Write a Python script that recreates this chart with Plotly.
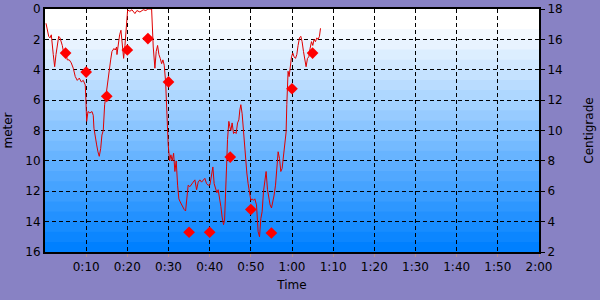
import plotly.graph_objects as go

# Dive profile: time (minutes) and depth (meters)
time_min = [0.24, 0.56, 0.9, 1.21, 1.53, 2.01, 2.35, 2.67, 2.99, 3.33, 3.64, 4.2, 4.61, 5.1, 5.41,
            5.9, 6.38, 6.87, 7.35, 7.84, 8.33, 8.81, 9.3, 9.78, 9.95, 10.12, 10.44, 10.92, 11.41,
            11.72, 11.89, 12.21, 12.55, 12.86, 13.18, 13.52, 13.83, 14.15, 14.49, 14.81, 15.12,
            15.36, 15.61, 15.95, 16.26, 16.75, 17.06, 17.4, 17.48, 17.79, 18.13, 18.45, 18.76,
            19.1, 19.42, 19.73, 19.9, 20.07, 20.63, 21.12, 21.84, 22.33, 23.06, 23.86, 24.51,
            25.0, 25.9, 26.04, 26.29, 26.7, 27.01, 27.35, 27.67, 27.99, 28.33, 28.64, 28.96,
            29.3, 29.54, 29.68, 29.93, 30.27, 30.58, 30.9, 31.24, 31.55, 31.87, 32.21, 32.52,
            32.84, 33.18, 33.5, 33.81, 34.15, 34.47, 34.78, 35.19, 35.61, 35.99, 36.41, 36.82,
            37.21, 37.62, 38.03, 38.42, 38.83, 39.25, 39.64, 40.05, 40.46, 40.78, 41.09, 41.43,
            41.75, 42.06, 42.4, 42.72, 43.03, 43.37, 43.62, 43.86, 44.1, 44.34, 44.66, 44.9,
            45.15, 45.46, 45.8, 46.12, 46.43, 46.77, 47.09, 47.33, 47.57, 47.89, 48.13, 48.37,
            48.71, 49.03, 49.34, 49.68, 50.0, 50.32, 50.66, 50.97, 51.38, 51.77, 52.11, 52.43,
            52.74, 53.08, 53.4, 53.71, 54.05, 54.37, 54.68, 55.02, 55.34, 55.66, 56.0, 56.31,
            56.63, 56.97, 57.28, 57.6, 57.94, 58.25, 58.57, 58.74, 58.91, 59.05, 59.3, 59.54,
            59.88, 60.19, 60.51, 60.85, 61.17, 61.48, 61.82, 62.14, 62.45, 62.79, 63.11, 63.42,
            63.76, 64.08, 64.39, 64.73, 65.05, 65.36, 65.7, 66.02, 66.33, 66.67, 66.92]
depth_m = [0.94, 1.4, 1.8, 1.9, 1.7, 3.0, 3.8, 3.0, 2.4, 1.8, 1.9, 2.4, 3.0, 2.9, 3.35,
           3.35, 3.55, 3.9, 4.45, 4.7, 4.55, 4.8, 4.7, 5.0, 6.1, 7.4, 6.75, 6.85, 6.75,
           7.0, 7.85, 8.5, 8.95, 9.4, 9.7, 9.2, 8.3, 8.0, 6.3, 5.7, 5.0,
           4.3, 4.1, 3.35, 2.8, 2.6, 2.7, 2.5, 3.0, 2.15, 1.7, 1.4, 2.15,
           3.25, 2.4, 1.27, 0.4, 0.07, 0.15, 0.05, 0.3, 0.1, 0.2, 0.05, 0.1,
           0.0, 0.0, 1.0, 2.5, 3.9, 2.8, 2.4, 3.0, 3.25, 3.6, 3.35, 3.7,
           4.8, 6.3, 8.1, 8.95, 10.0, 9.6, 10.0, 9.5, 10.7, 10.0, 11.6, 12.5,
           12.7, 12.9, 13.1, 13.2, 13.3, 12.5, 11.6, 11.7, 11.5, 11.4, 11.25, 11.9,
           11.4, 11.25, 11.4, 11.25, 11.15, 11.5, 11.6, 11.6, 11.05, 10.4, 11.5, 11.9,
           12.1, 11.9, 12.35, 13.0, 13.7, 14.2, 13.9, 12.6, 10.4, 8.6, 7.4, 7.75,
           8.0, 7.5, 8.2, 8.1, 8.2, 7.5, 7.3, 6.65, 6.3, 6.9, 7.75, 9.1,
           9.95, 10.8, 11.5, 12.0, 12.6, 12.5, 12.6, 12.5, 12.9, 14.65, 15.0, 13.8,
           13.35, 12.0, 11.15, 10.7, 11.9, 12.5, 12.9, 13.1, 12.7, 12.25, 11.6, 10.5,
           9.4, 9.85, 10.7, 10.5, 9.6, 8.95, 8.1, 6.3, 4.8, 4.1, 4.45, 3.8,
           3.15, 2.9, 3.15, 3.25, 3.0, 2.4, 1.9, 1.8, 2.15, 2.8, 3.45, 3.8,
           3.25, 3.15, 2.6, 2.15, 2.4, 2.0, 2.15, 1.9, 2.0, 1.8, 1.27]

# Water temperature samples (Centigrade)
temp_time_min = [5, 10, 15, 20, 25, 30, 35, 40, 45, 50, 55, 60, 65]
temp_c = [15.1, 13.85, 12.25, 15.3, 16.05, 13.2, 3.3, 3.3, 8.25, 4.8, 3.25, 12.75, 15.1]

x_tick_vals = [10, 20, 30, 40, 50, 60, 70, 80, 90, 100, 110, 120]
x_tick_text = ["0:10", "0:20", "0:30", "0:40", "0:50", "1:00", "1:10", "1:20",
               "1:30", "1:40", "1:50", "2:00"]
depth_ticks = [0, 2, 4, 6, 8, 10, 12, 14, 16]
temp_ticks = [2, 4, 6, 8, 10, 12, 14, 16, 18]

FONT = "DejaVu Sans"

fig = go.Figure()

# background gradient bands (white -> blue), slightly overlapping to avoid seams
N = 24
shapes = []
for i in range(N):
    f = max(0.0, (i - 1) / (N - 2))
    r = int(round(255 * (1 - f)))
    g = int(round(255 - 127 * f))
    top = 1 - i / N
    bot = max(0.0, 1 - (i + 1) / N - 0.006)
    shapes.append(dict(type="rect", xref="x domain", yref="y domain",
                       x0=0, x1=1, y0=bot, y1=top,
                       fillcolor=f"rgb({r},{g},255)", line=dict(width=0),
                       layer="below"))

fig.add_trace(go.Scatter(x=time_min, y=depth_m, mode="lines",
                         line=dict(color="#E00000", width=1), yaxis="y",
                         showlegend=False, hoverinfo="skip"))
fig.add_trace(go.Scatter(x=temp_time_min, y=temp_c, mode="markers",
                         marker=dict(symbol="diamond", size=9, color="#FF0000",
                                     line=dict(width=0)),
                         yaxis="y2", showlegend=False, hoverinfo="skip"))

fig.update_layout(
    width=600, height=300,
    margin=dict(l=45, r=61, t=9, b=48, autoexpand=False),
    paper_bgcolor="#8882C4",
    plot_bgcolor="#0080FF",
    font=dict(family=FONT, size=12, color="black"),
    shapes=shapes,
    xaxis=dict(range=[0, 120], tickvals=x_tick_vals, ticktext=x_tick_text,
               showgrid=True, gridcolor="black", griddash="4px,3px", gridwidth=1,
               showline=True, linecolor="black", linewidth=2, mirror=True,
               ticks="outside", ticklen=3, tickcolor="#B89090", automargin=False,
               zeroline=False, tickfont=dict(size=12),
               title=dict(text="Time", font=dict(size=12), standoff=7)),
    yaxis=dict(range=[16, 0], tickvals=depth_ticks, automargin=False,
               showgrid=True, gridcolor="black", griddash="4px,3px", gridwidth=1,
               showline=True, linecolor="black", linewidth=2, mirror=True,
               ticks="", zeroline=False, tickfont=dict(size=12),
               title=dict(text="meter", font=dict(size=12), standoff=10)),
    yaxis2=dict(range=[2, 18], tickvals=temp_ticks, overlaying="y", side="right",
                showgrid=False, zeroline=False, showline=False, automargin=False,
                ticks="outside", ticklen=5, tickcolor="black",
                tickfont=dict(size=12),
                title=dict(text="Centigrade", font=dict(size=12), standoff=22)),
)

fig.write_html("out.html")
